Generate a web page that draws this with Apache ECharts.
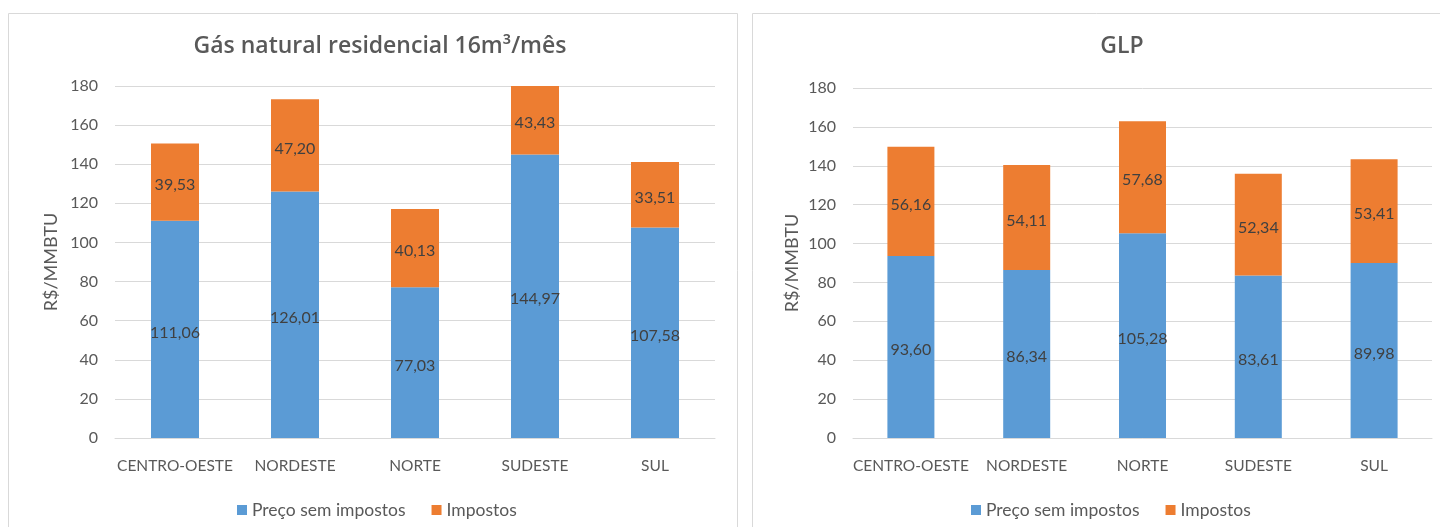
<!DOCTYPE html>
<html>
<head>
<meta charset="utf-8">
<script src="https://cdn.jsdelivr.net/npm/echarts@6/dist/echarts.min.js"></script>
<style>
  html, body { margin: 0; padding: 0; background: #fff; }
  #chart { width: 1440px; height: 527px; }
</style>
</head>
<body>
<div id="chart"></div>
<script>
// Regions shown on both charts
const regions = ['CENTRO-OESTE', 'NORDESTE', 'NORTE', 'SUDESTE', 'SUL'];

// Residential natural gas, 16 m³/month (R$/MMBTU)
const gasPreco = [111.06, 126.01, 77.03, 144.97, 107.58];
const gasImpostos = [39.53, 47.20, 40.13, 43.43, 33.51];

// LPG (R$/MMBTU)
const glpPreco = [93.60, 86.34, 105.28, 83.61, 89.98];
const glpImpostos = [56.16, 54.11, 57.68, 52.34, 53.41];

const yTicks = { min: 0, max: 180, interval: 20 };
const seriesNames = ['Preço sem impostos', 'Impostos'];
const titles = ['Gás natural residencial 16m³/mês', 'GLP'];

const FONT = 'Lato, "Open Sans", sans-serif';
const TITLE_FONT = '"Open Sans", Lato, sans-serif';
const BLUE = '#5B9BD5';
const ORANGE = '#ED7D31';
const GRID = '#D9D9D9';
const TEXT = '#595959';

const fmt = v => v.toFixed(2).replace('.', ',');

function bar(name, data, color, axisIndex, barWidth) {
  return {
    name, type: 'bar', stack: 'total' + axisIndex,
    xAxisIndex: axisIndex, yAxisIndex: axisIndex,
    data, barWidth, clip: true,
    itemStyle: { color },
    label: {
      show: true, position: 'inside', color: '#404040',
      fontFamily: FONT, fontSize: 16, offset: [0, 3],
      formatter: p => fmt(p.value)
    },
    emphasis: { disabled: true }
  };
}

function xAxis(gridIndex) {
  return {
    type: 'category', gridIndex, data: regions,
    axisLine: { lineStyle: { color: GRID } },
    axisTick: { show: false },
    axisLabel: { color: TEXT, fontFamily: FONT, fontSize: 15.5, margin: 20, interval: 0 }
  };
}

function yAxis(gridIndex, nameGap) {
  return {
    type: 'value', gridIndex, ...yTicks,
    name: 'R$/MMBTU', nameLocation: 'middle', nameGap,
    nameTextStyle: { color: TEXT, fontFamily: FONT, fontSize: 18 },
    axisLine: { show: false }, axisTick: { show: false },
    axisLabel: { color: TEXT, fontFamily: FONT, fontSize: 16, margin: 17 },
    splitLine: { lineStyle: { color: GRID } }
  };
}

function legend(left) {
  return {
    data: seriesNames, left, top: 496,
    itemWidth: 10, itemHeight: 10, itemGap: 26,
    icon: 'rect', selectedMode: false,
    textStyle: { color: TEXT, fontFamily: FONT, fontSize: 17.5 }
  };
}

const chart = echarts.init(document.getElementById('chart'));
chart.setOption({
  animation: false,
  color: [BLUE, ORANGE],
  graphic: [
    { type: 'rect', shape: { x: 8.5, y: 13.5, width: 729, height: 530 },
      style: { fill: 'none', stroke: GRID, lineWidth: 1 }, silent: true },
    { type: 'rect', shape: { x: 752.5, y: 13.5, width: 700, height: 530 },
      style: { fill: 'none', stroke: GRID, lineWidth: 1 }, silent: true }
  ],
  title: [
    { text: titles[0], left: 375, top: 30, textAlign: 'center',
      textStyle: { color: TEXT, fontFamily: TITLE_FONT, fontSize: 23, fontWeight: 600 } },
    { text: titles[1], left: 1117, top: 30, textAlign: 'center',
      textStyle: { color: TEXT, fontFamily: TITLE_FONT, fontSize: 23, fontWeight: 600 } }
  ],
  legend: [legend(232), legend(966)],
  grid: [
    { left: 115, right: 725, top: 86, bottom: 89 },
    { left: 853, right: 8, top: 88, bottom: 89 }
  ],
  xAxis: [xAxis(0), xAxis(1)],
  yAxis: [yAxis(0, 55), yAxis(1, 52)],
  series: [
    bar(seriesNames[0], gasPreco, BLUE, 0, 48),
    bar(seriesNames[1], gasImpostos, ORANGE, 0, 48),
    bar(seriesNames[0], glpPreco, BLUE, 1, 47),
    bar(seriesNames[1], glpImpostos, ORANGE, 1, 47)
  ]
});
</script>
</body>
</html>
